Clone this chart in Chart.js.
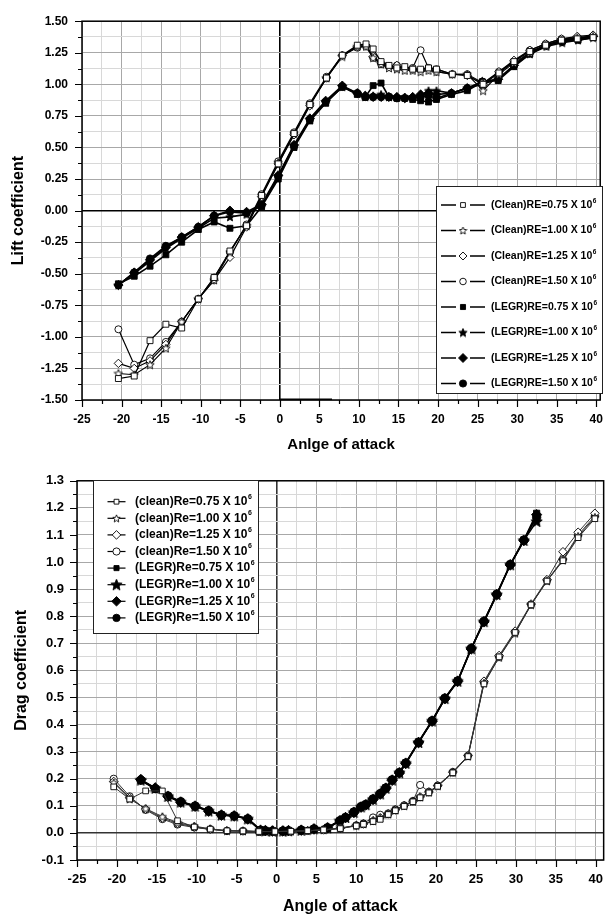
<!DOCTYPE html>
<html><head><meta charset="utf-8">
<script src="https://cdn.jsdelivr.net/npm/chart.js@4/dist/chart.umd.min.js"></script>
<style>
html,body{margin:0;padding:0;background:#fff;width:615px;height:917px;overflow:hidden}
canvas{position:absolute;left:0;display:block}
#c1{top:0}
#c2{top:460px}
</style></head><body>
<canvas id="c1" width="615" height="460" style="width:615px;height:460px"></canvas>
<canvas id="c2" width="615" height="457" style="width:615px;height:457px"></canvas>
<script>
// ---------- tick values ----------
const angleTicks = [-25,-20,-15,-10,-5,0,5,10,15,20,25,30,35,40];
const liftTicks = [-1.5,-1.25,-1,-0.75,-0.5,-0.25,0,0.25,0.5,0.75,1,1.25,1.5];
const dragTicks = [-0.1,0,0.1,0.2,0.3,0.4,0.5,0.6,0.7,0.8,0.9,1.0,1.1,1.2,1.3];

// ---------- legend labels ----------
const liftLabels = ['(Clean)RE=0.75 X 10⁶','(Clean)RE=1.00 X 10⁶','(Clean)RE=1.25 X 10⁶','(Clean)RE=1.50 X 10⁶',
                    '(LEGR)RE=0.75 X 10⁶','(LEGR)RE=1.00 X 10⁶','(LEGR)RE=1.25 X 10⁶','(LEGR)RE=1.50 X 10⁶'];
const dragLabels = ['(clean)Re=0.75 X 10⁶','(clean)Re=1.00 X 10⁶','(clean)Re=1.25 X 10⁶','(clean)Re=1.50 X 10⁶',
                    '(LEGR)Re=0.75 X 10⁶','(LEGR)Re=1.00 X 10⁶','(LEGR)Re=1.25 X 10⁶','(LEGR)Re=1.50 X 10⁶'];

// ---------- lift coefficient data ----------
const liftCleanAoA = [-20.4,-18.4,-16.4,-14.4,-12.4,-10.3,-8.3,-6.3,-4.2,-2.3,-0.2,1.8,3.8,5.9,7.9,9.8,10.9,11.8,12.8,13.8,14.8,15.8,16.8,17.8,18.8,19.8,21.8,23.7,25.7,27.7,29.6,31.6,33.6,35.6,37.6,39.6];
const liftClean075 = [-1.33,-1.31,-1.03,-0.90,-0.93,-0.70,-0.53,-0.32,-0.12,0.12,0.37,0.61,0.84,1.05,1.23,1.31,1.32,1.28,1.18,1.15,1.13,1.14,1.12,1.12,1.13,1.12,1.08,1.07,1.00,1.09,1.18,1.26,1.31,1.35,1.36,1.37];
const liftClean100 = [-1.29,-1.30,-1.22,-1.09,-0.88,-0.70,-0.55,-0.33,-0.12,0.12,0.38,0.61,0.84,1.05,1.22,1.30,1.30,1.21,1.16,1.13,1.12,1.11,1.11,1.10,1.11,1.10,1.08,1.08,0.95,1.08,1.17,1.25,1.31,1.35,1.37,1.38];
const liftClean125 = [-1.21,-1.25,-1.19,-1.06,-0.88,-0.70,-0.55,-0.37,-0.13,0.11,0.37,0.60,0.83,1.05,1.23,1.30,1.31,1.22,1.17,1.14,1.15,1.12,1.12,1.11,1.12,1.10,1.08,1.07,1.00,1.10,1.19,1.27,1.32,1.36,1.38,1.39];
const liftClean150 = [-0.94,-1.22,-1.17,-1.04,-0.88,-0.70,-0.53,-0.33,-0.11,0.13,0.39,0.62,0.85,1.06,1.23,1.29,1.30,1.21,1.16,1.14,1.15,1.13,1.13,1.27,1.13,1.12,1.08,1.08,1.01,1.10,1.18,1.27,1.32,1.36,1.37,1.38];
const liftLegrAoA = [-20.4,-18.4,-16.4,-14.4,-12.4,-10.3,-8.3,-6.3,-4.2,-2.3,-0.2,1.8,3.8,5.8,7.9,9.8,10.8,11.8,12.8,13.8,14.8,15.8,16.8,17.8,18.8,19.8,21.7,23.7,25.6,27.6,29.6,31.6,33.7,35.7,37.7,39.6];
const liftLegr075 = [-0.58,-0.52,-0.44,-0.35,-0.25,-0.15,-0.09,-0.14,-0.12,0.03,0.25,0.50,0.71,0.85,0.98,0.92,0.90,0.99,1.01,0.90,0.89,0.89,0.88,0.87,0.86,0.88,0.92,0.95,1.02,1.03,1.14,1.24,1.31,1.34,1.35,1.37];
const liftLegr100 = [-0.59,-0.50,-0.40,-0.30,-0.22,-0.14,-0.06,-0.05,-0.03,0.04,0.27,0.51,0.72,0.86,0.98,0.93,0.90,0.91,0.92,0.90,0.90,0.90,0.90,0.91,0.95,0.95,0.93,0.97,1.00,1.04,1.15,1.24,1.30,1.33,1.35,1.37];
const liftLegr125 = [-0.59,-0.49,-0.39,-0.29,-0.21,-0.13,-0.04,0.00,-0.01,0.05,0.28,0.52,0.73,0.87,0.99,0.93,0.91,0.90,0.90,0.90,0.90,0.89,0.90,0.92,0.93,0.92,0.93,0.97,1.02,1.04,1.15,1.25,1.31,1.34,1.36,1.38];
const liftLegr150 = [-0.59,-0.49,-0.38,-0.28,-0.21,-0.13,-0.04,-0.01,-0.02,0.04,0.27,0.51,0.72,0.86,0.98,0.93,0.90,0.90,0.90,0.90,0.89,0.89,0.89,0.90,0.91,0.89,0.93,0.97,1.02,1.04,1.15,1.25,1.31,1.34,1.36,1.38];
const liftBaseAoA = [0, 6.6];
const liftBaseCL = [-1.5, -1.5];

// ---------- drag coefficient data ----------
const dragCleanAoA = [-20.4,-18.4,-16.4,-14.3,-12.4,-10.3,-8.3,-6.2,-4.2,-2.2,-0.2,1.8,3.9,5.9,8.0,10.0,10.9,12.1,13.0,14.0,14.9,16.0,17.1,18.0,19.1,20.2,22.1,24.0,26.0,27.9,29.9,31.9,33.9,35.9,37.8,39.9];
const dragClean075 = [0.170,0.125,0.155,0.155,0.045,0.022,0.014,0.008,0.007,0.005,0.005,0.006,0.008,0.011,0.016,0.026,0.032,0.042,0.050,0.068,0.082,0.098,0.115,0.130,0.148,0.172,0.222,0.282,0.550,0.650,0.740,0.842,0.930,1.005,1.090,1.160];
const dragClean100 = [0.185,0.125,0.090,0.060,0.038,0.025,0.015,0.008,0.007,0.005,0.005,0.006,0.008,0.011,0.017,0.027,0.033,0.045,0.055,0.069,0.084,0.100,0.116,0.132,0.150,0.173,0.223,0.283,0.553,0.648,0.737,0.842,0.930,1.007,1.095,1.165];
const dragClean125 = [0.190,0.130,0.088,0.055,0.035,0.022,0.014,0.008,0.007,0.005,0.005,0.006,0.008,0.011,0.017,0.027,0.033,0.045,0.056,0.070,0.085,0.101,0.117,0.133,0.151,0.174,0.224,0.285,0.560,0.655,0.745,0.845,0.935,1.038,1.110,1.180];
const dragClean150 = [0.200,0.135,0.085,0.051,0.031,0.020,0.013,0.007,0.007,0.005,0.005,0.006,0.008,0.012,0.018,0.028,0.035,0.057,0.067,0.072,0.087,0.102,0.118,0.177,0.152,0.175,0.225,0.285,0.555,0.650,0.740,0.843,0.932,1.010,1.100,1.170];
const dragLegrAoA = [-17.0,-15.2,-13.6,-12.0,-10.2,-8.5,-6.9,-5.3,-3.6,-2.0,-1.4,-0.5,0.8,1.5,3.1,4.7,6.4,7.95,8.65,9.7,10.6,11.2,12.1,13.0,13.7,14.5,15.4,16.2,17.8,19.5,21.1,22.7,24.4,26.0,27.6,29.3,31.0,32.6];
const dragLegr075 = [0.193,0.163,0.137,0.116,0.100,0.083,0.067,0.064,0.053,0.011,0.009,0.008,0.008,0.009,0.011,0.016,0.020,0.046,0.058,0.078,0.098,0.106,0.126,0.146,0.167,0.197,0.224,0.259,0.336,0.415,0.498,0.562,0.682,0.782,0.882,0.992,1.082,1.180];
const dragLegr100 = [0.195,0.165,0.135,0.114,0.099,0.081,0.066,0.063,0.052,0.010,0.008,0.007,0.007,0.008,0.010,0.015,0.019,0.045,0.057,0.076,0.096,0.104,0.124,0.144,0.165,0.195,0.222,0.257,0.334,0.413,0.496,0.560,0.680,0.780,0.880,0.990,1.080,1.150];
const dragLegr125 = [0.197,0.166,0.134,0.113,0.098,0.080,0.065,0.062,0.051,0.009,0.008,0.007,0.007,0.008,0.010,0.014,0.018,0.044,0.056,0.075,0.095,0.103,0.123,0.143,0.164,0.194,0.221,0.256,0.333,0.412,0.495,0.559,0.679,0.779,0.879,0.989,1.079,1.175];
const dragLegr150 = [0.196,0.164,0.136,0.115,0.099,0.082,0.066,0.063,0.052,0.010,0.008,0.007,0.007,0.008,0.010,0.015,0.019,0.045,0.057,0.077,0.097,0.105,0.125,0.145,0.166,0.196,0.223,0.258,0.335,0.414,0.497,0.561,0.681,0.781,0.881,0.991,1.081,1.165];

// ---------- helpers ----------
const FONT = '"Liberation Sans", Arial, Helvetica, sans-serif';
function isMajor(v, majors){ return majors.some(m => Math.abs(m - v) < 1e-6); }
function withMinors(majors){
  const out = [];
  for (let i = 0; i < majors.length; i++){
    out.push(majors[i]);
    if (i < majors.length - 1) out.push(+((majors[i] + majors[i+1]) / 2).toFixed(4));
  }
  return out;
}
function starCanvas(size, filled){
  const c = document.createElement('canvas'); c.width = size; c.height = size;
  const g = c.getContext('2d');
  const cx = size/2, cy = size/2 + 0.4, R = size/2 - 0.6, r = R*0.45;
  g.beginPath();
  for (let i = 0; i < 10; i++){
    const a = -Math.PI/2 + i*Math.PI/5, rr = i % 2 ? r : R;
    g.lineTo(cx + rr*Math.cos(a), cy + rr*Math.sin(a));
  }
  g.closePath();
  g.fillStyle = filled ? '#000' : '#fff'; g.fill();
  g.lineWidth = 0.9; g.strokeStyle = '#000'; g.stroke();
  return c;
}
function pts(xs, ys){ return xs.map((x, i) => ({x, y: ys[i]})); }
function series(label, xs, ys, st){
  return {
    label, data: pts(xs, ys), showLine: true, fill: false, tension: 0,
    borderColor: st.lineColor || '#000', borderWidth: st.lw,
    pointStyle: st.style, pointRadius: st.r, pointBackgroundColor: st.filled ? '#000' : '#fff',
    pointBorderColor: '#000', pointBorderWidth: 0.9,
    legendStyle: st.legendStyle || st.style, legendR: st.legendR, filled: st.filled
  };
}
function axisCfg(o){
  const all = withMinors(o.majors);
  const horiz = o.pos === 'bottom';
  return {
    type: 'linear', min: o.min, max: o.max, position: o.pos,
    afterBuildTicks: s => { s.ticks = all.map(v => ({value: v})); },
    afterFit: s => { if (horiz) s.height = o.size; else s.width = o.size; },
    ticks: { autoSkip: false, maxRotation: 0, minRotation: 0, padding: o.tickPad, color: '#000',
      font: {family: FONT, size: o.tickSize, weight: 'bold'},
      callback: v => isMajor(v, o.majors) ? o.fmt(v) : '' },
    grid: { drawTicks: false,
      color: c => Math.abs(c.tick.value) < 1e-9 ? o.zeroColor : (isMajor(c.tick.value, o.majors) ? '#a8a8a8' : '#d8d8d8'),
      lineWidth: c => Math.abs(c.tick.value) < 1e-9 ? 1.6 : 1 },
    border: {display: false},
    title: {display: true, text: o.title, color: '#000',
      font: {family: FONT, size: o.titleSize, weight: 'bold'},
      padding: horiz ? {top: 0, bottom: o.titlePad} : {top: o.titlePad, bottom: 0}}
  };
}

// ---------- plugins ----------
const frame = {
  id: 'frame',
  afterDatasetsDraw(chart, args, o){
    const {ctx, chartArea: a} = chart; const x = chart.scales.x, y = chart.scales.y;
    ctx.save();
    ctx.strokeStyle = '#000'; ctx.lineWidth = 1.5;
    ctx.strokeRect(a.left, a.top, a.right - a.left, a.bottom - a.top);
    ctx.lineWidth = 1.2; ctx.beginPath();
    x.ticks.forEach(t => { const p = Math.round(x.getPixelForValue(t.value)) + 0.5;
      const L = isMajor(t.value, o.xMajors) ? o.majorLen : o.minorLen;
      ctx.moveTo(p, a.bottom); ctx.lineTo(p, a.bottom + L); });
    y.ticks.forEach(t => { const p = Math.round(y.getPixelForValue(t.value)) + 0.5;
      const L = isMajor(t.value, o.yMajors) ? o.majorLen : o.minorLen;
      ctx.moveTo(a.left, p); ctx.lineTo(a.left - L, p); });
    ctx.stroke(); ctx.restore();
  }
};
const SUP = {'⁰':'0','¹':'1','²':'2','³':'3','⁴':'4','⁵':'5','⁶':'6','⁷':'7','⁸':'8','⁹':'9'};
const boxLegend = {
  id: 'boxLegend',
  afterDraw(chart, args, o){
    const ctx = chart.ctx; const [bx, by, bw, bh] = o.box;
    ctx.save();
    ctx.fillStyle = '#fff'; ctx.fillRect(bx, by, bw, bh);
    ctx.strokeStyle = '#222'; ctx.lineWidth = 1; ctx.strokeRect(bx + 0.5, by + 0.5, bw, bh);
    let row = 0;
    chart.data.datasets.forEach(ds => {
      if (ds.noLegend) return;
      const y = o.y0 + row * o.dy; row++;
      ctx.strokeStyle = '#000'; ctx.lineWidth = o.lineW; ctx.beginPath();
      if (o.gap){ ctx.moveTo(o.x0, y); ctx.lineTo(o.markX - o.gap, y); ctx.moveTo(o.markX + o.gap, y); ctx.lineTo(o.x1, y); }
      else { ctx.moveTo(o.x0, y); ctx.lineTo(o.x1, y); }
      ctx.stroke();
      ctx.fillStyle = ds.filled ? '#000' : '#fff'; ctx.strokeStyle = '#000'; ctx.lineWidth = 0.9;
      Chart.helpers.drawPoint(ctx, {pointStyle: ds.legendStyle, radius: ds.legendR, rotation: 0, borderWidth: 0.9}, o.markX, y);
      const m = ds.label.match(/^(.*?)([⁰¹²³⁴⁵⁶⁷⁸⁹]+)$/);
      const base = m ? m[1] : ds.label, sup = m ? m[2].split('').map(c => SUP[c]).join('') : '';
      ctx.fillStyle = '#000'; ctx.textBaseline = 'middle'; ctx.textAlign = 'left';
      ctx.font = o.font; ctx.fillText(base, o.textX, y);
      const w = ctx.measureText(base).width;
      if (sup){ ctx.font = o.supFont; ctx.fillText(sup, o.textX + w + 0.6, y - o.supRise); }
    });
    ctx.restore();
  }
};

// ---------- chart 1: lift ----------
const sClean = [
  {style: 'rect', r: 4.2, legendR: 3.4},
  {style: starCanvas(10, false), legendStyle: starCanvas(9, false)},
  {style: 'rectRot', r: 4.2, legendR: 4},
  {style: 'circle', r: 3.5, legendR: 3.3}
];
const sLegr = [
  {style: 'rect', r: 4.2, legendR: 3.6, filled: true},
  {style: starCanvas(10, true), legendStyle: starCanvas(10, true), filled: true},
  {style: 'rectRot', r: 4.6, legendR: 4.5, filled: true},
  {style: 'circle', r: 3.7, legendR: 3.6, filled: true}
];
const liftCleanVals = [liftClean075, liftClean100, liftClean125, liftClean150];
const liftLegrVals = [liftLegr075, liftLegr100, liftLegr125, liftLegr150];
const liftDatasets = [];
liftCleanVals.forEach((v, i) => liftDatasets.push(series(liftLabels[i], liftCleanAoA, v, Object.assign({lw: 1.2}, sClean[i]))));
liftLegrVals.forEach((v, i) => liftDatasets.push(series(liftLabels[i+4], liftLegrAoA, v, Object.assign({lw: 1.6}, sLegr[i]))));
liftDatasets.push({label: 'base', data: pts(liftBaseAoA, liftBaseCL), noLegend: true, showLine: true,
  borderColor: '#000', borderWidth: 3, pointRadius: 0});

new Chart(document.getElementById('c1'), {
  type: 'line',
  data: {datasets: liftDatasets},
  options: {
    responsive: false, animation: false, events: [], devicePixelRatio: 1,
    layout: {padding: {top: 14, right: 9, bottom: 0, left: 0}},
    plugins: {
      legend: {display: false}, tooltip: {enabled: false},
      frame: {xMajors: angleTicks, yMajors: liftTicks, majorLen: 7, minorLen: 4},
      boxLegend: {box: [436, 186, 166, 207], x0: 441, x1: 485, gap: 7, markX: 463, textX: 491,
        y0: 205, dy: 25.5, lineW: 1.5, font: 'bold 10.5px ' + FONT, supFont: 'bold 6.5px ' + FONT, supRise: 4}
    },
    scales: {
      x: axisCfg({pos: 'bottom', min: -25, max: 40.5, majors: angleTicks, fmt: v => String(v), size: 60,
        tickPad: 12, tickSize: 12, title: 'Anlge of attack', titleSize: 15, titlePad: 6, zeroColor: '#000'}),
      y: axisCfg({pos: 'left', min: -1.5, max: 1.5, majors: liftTicks, fmt: v => v.toFixed(2), size: 82,
        tickPad: 14, tickSize: 12, title: 'Lift coefficient', titleSize: 16, titlePad: 9, zeroColor: '#000'})
    }
  },
  plugins: [frame, boxLegend]
});

// ---------- chart 2: drag ----------
const dClean = [
  {style: 'rect', r: 4.0, legendR: 3.4},
  {style: starCanvas(10, false), legendStyle: starCanvas(9, false)},
  {style: 'rectRot', r: 4.3, legendR: 4.3},
  {style: 'circle', r: 3.6, legendR: 3.6}
];
const dLegr = [
  {style: 'rect', r: 4.4, legendR: 3.6, filled: true},
  {style: starCanvas(13, true), legendStyle: starCanvas(13, true), filled: true},
  {style: 'rectRot', r: 5.2, legendR: 4.8, filled: true},
  {style: 'circle', r: 4.2, legendR: 3.7, filled: true}
];
const dragCleanVals = [dragClean075, dragClean100, dragClean125, dragClean150];
const dragLegrVals = [dragLegr075, dragLegr100, dragLegr125, dragLegr150];
const dragDatasets = [];
dragCleanVals.forEach((v, i) => dragDatasets.push(series(dragLabels[i], dragCleanAoA, v, Object.assign({lw: 1, lineColor: '#333'}, dClean[i]))));
dragLegrVals.forEach((v, i) => dragDatasets.push(series(dragLabels[i+4], dragLegrAoA, v, Object.assign({lw: 1.5}, dLegr[i]))));

new Chart(document.getElementById('c2'), {
  type: 'line',
  data: {datasets: dragDatasets},
  options: {
    responsive: false, animation: false, events: [], devicePixelRatio: 1,
    layout: {padding: {top: 7, right: 4, bottom: 0, left: 0}},
    plugins: {
      legend: {display: false}, tooltip: {enabled: false},
      frame: {xMajors: angleTicks, yMajors: dragTicks, majorLen: 7, minorLen: 4},
      boxLegend: {box: [93, 20, 165, 153], x0: 107.5, x1: 125.5, gap: 0, markX: 116.5, textX: 135,
        y0: 41.7, dy: 16.6, lineW: 1.2, font: 'bold 12px ' + FONT, supFont: 'bold 7px ' + FONT, supRise: 5}
    },
    scales: {
      x: axisCfg({pos: 'bottom', min: -25, max: 41, majors: angleTicks, fmt: v => String(v), size: 57,
        tickPad: 12, tickSize: 13, title: 'Angle of attack', titleSize: 16, titlePad: 1, zeroColor: '#333'}),
      y: axisCfg({pos: 'left', min: -0.1, max: 1.3, majors: dragTicks, fmt: v => v.toFixed(1), size: 77,
        tickPad: 13, tickSize: 13, title: 'Drag coefficient', titleSize: 16, titlePad: 12, zeroColor: '#333'})
    }
  },
  plugins: [frame, boxLegend]
});
</script>
</body></html>
